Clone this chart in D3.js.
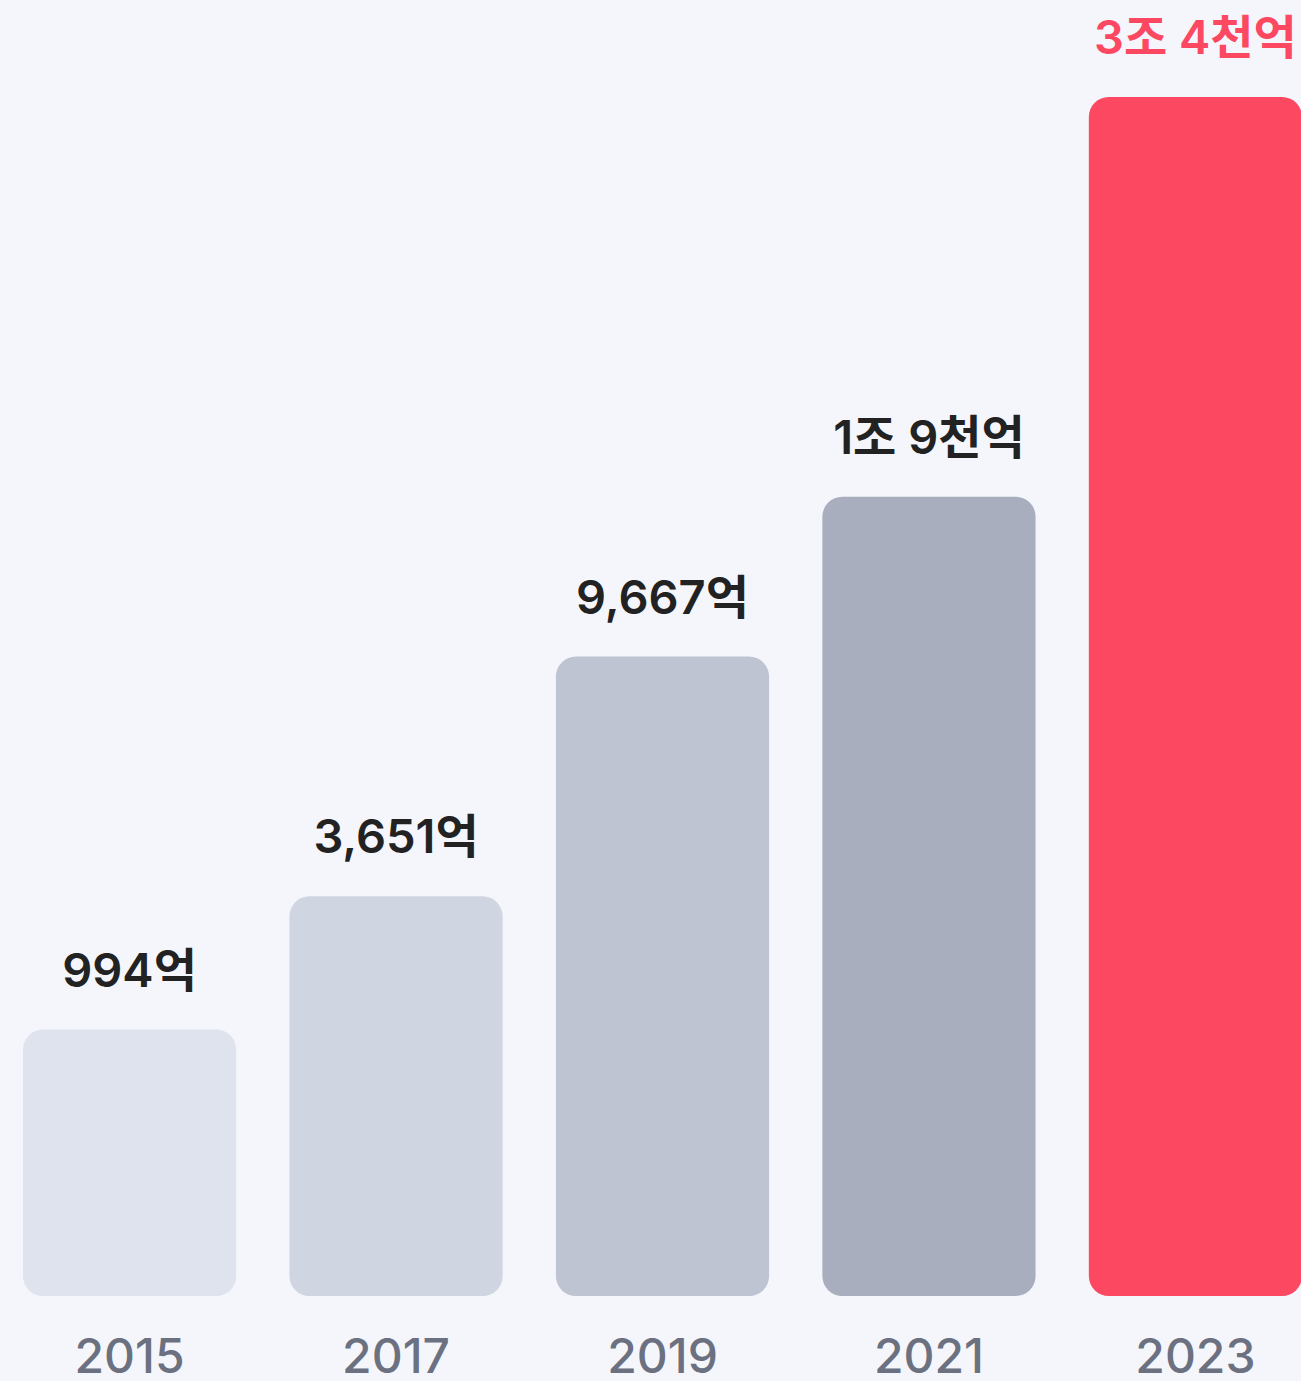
<!DOCTYPE html>
<html lang="ko">
<head>
<meta charset="utf-8">
<title>연도별 규모</title>
<script src="https://d3js.org/d3.v7.min.js"></script>
<style>
  html, body { margin: 0; padding: 0; background: #f4f6fb; }
  svg { display: block; }
  text { font-family: Inter, "Noto Sans CJK KR", "Noto Sans", sans-serif; }
</style>
</head>
<body>
<script>
// data
var years = ["2015", "2017", "2019", "2021", "2023"];
var valueLabels = ["994억", "3,651억", "9,667억", "1조 9천억", "3조 4천억"];
// bar height as drawn (relative units, not proportional to the amounts)
var barLevel = [2, 3, 4.8, 6, 9];
var barColors = ["#dfe3ed", "#cfd5e1", "#bec4d2", "#a8aebd", "#fd4862"];
var labelColors = ["#222222", "#222222", "#222222", "#222222", "#fd4862"];

var width = 1301, height = 1381;
var baseY = 1296;

var svg = d3.select("body").append("svg")
  .attr("width", width)
  .attr("height", height);

svg.append("rect")
  .attr("width", width)
  .attr("height", height)
  .attr("fill", "#f4f6fb");

var x = d3.scaleBand()
  .domain(years)
  .range([23, 1302])
  .paddingInner(0.2)
  .paddingOuter(0);

var y = d3.scaleLinear()
  .domain([0, 9])
  .range([baseY, 97]);

var rows = years.map(function(d, i) {
  return {year: d, level: barLevel[i], label: valueLabels[i], color: barColors[i], lc: labelColors[i]};
});

svg.selectAll("rect.bar")
  .data(rows)
  .enter()
  .append("rect")
  .attr("class", "bar")
  .attr("x", function(d) { return x(d.year); })
  .attr("y", function(d) { return y(d.level); })
  .attr("width", x.bandwidth())
  .attr("height", function(d) { return baseY - y(d.level); })
  .attr("rx", 20)
  .attr("ry", 20)
  .attr("fill", function(d) { return d.color; });

// value labels above bars
svg.selectAll("text.val")
  .data(rows)
  .enter()
  .append("text")
  .attr("class", "val")
  .attr("x", function(d) { return x(d.year) + x.bandwidth() / 2; })
  .attr("y", function(d) { return y(d.level) - 43; })
  .attr("text-anchor", "middle")
  .attr("font-size", 47)
  .attr("font-weight", 600)
  .attr("fill", function(d) { return d.lc; })
  .text(function(d) { return d.label; });

// year axis
var axis = svg.append("g")
  .attr("transform", "translate(0," + baseY + ")")
  .call(d3.axisBottom(x).tickSize(0).tickPadding(0));

axis.select(".domain").remove();
axis.selectAll("text")
  .attr("y", 77)
  .attr("dy", 0)
  .attr("font-size", 48)
  .attr("font-weight", 500)
  .attr("font-family", "Inter, 'Noto Sans CJK KR', sans-serif")
  .attr("fill", "#6b7180");
</script>
</body>
</html>
